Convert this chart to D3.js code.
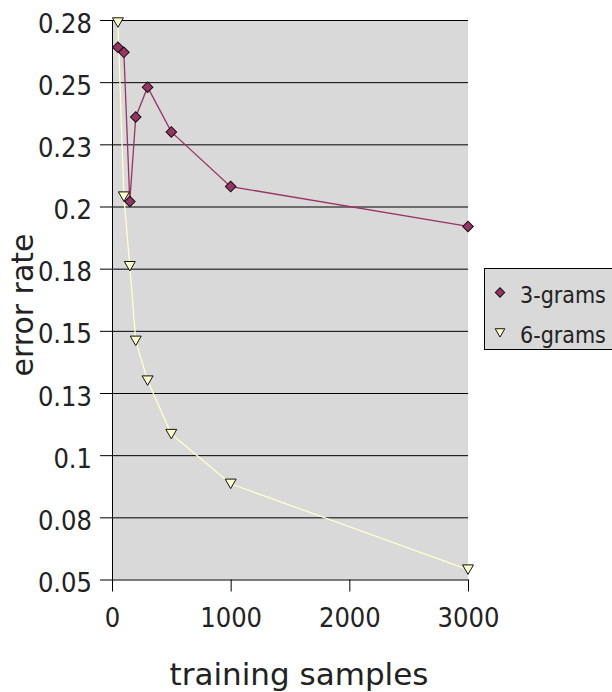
<!DOCTYPE html>
<html>
<head>
<meta charset="utf-8">
<script src="https://cdn.jsdelivr.net/npm/d3@7"></script>
<style>
  body { margin: 0; background: #fff; }
  svg { display: block; }
</style>
</head>
<body>
<div id="graf"></div>
<script>
const anchoTotal = 612
const altoTotal = 692
const margins = { left: 112, top: 20, right: 144, bottom: 112.5 }
const ancho = anchoTotal - margins.left - margins.right
const alto = altoTotal - margins.top - margins.bottom

// Data
const muestras = [50, 100, 150, 200, 300, 500, 1000, 3000]
const tresGramas = [0.264, 0.262, 0.202, 0.236, 0.248, 0.230, 0.208, 0.192]
const seisGramas = [0.274, 0.204, 0.176, 0.146, 0.130, 0.1085, 0.0885, 0.054]
const series = ["3-grams", "6-grams"]
const yTicks = [0.05, 0.075, 0.1, 0.125, 0.15, 0.175, 0.2, 0.225, 0.25, 0.275]
const yTickLabels = ["0.05", "0.08", "0.1", "0.13", "0.15", "0.18", "0.2", "0.23", "0.25", "0.28"]
const xTicks = [0, 1000, 2000, 3000]

const fuente = "'DejaVu Sans Condensed', 'DejaVu Sans', sans-serif"
const fuenteTitulo = "'DejaVu Sans', sans-serif"

const svg = d3
  .select("#graf")
  .append("svg")
  .attr("width", anchoTotal)
  .attr("height", altoTotal)

const g = svg
  .append("g")
  .attr("transform", `translate(${margins.left}, ${margins.top})`)

// Escaladores
const x = d3.scaleLinear().domain([0, 3000]).range([0, ancho])
const y = d3.scaleLinear().domain([0.05, 0.275]).range([alto, 0])

// fondo
g.append("rect")
  .attr("x", 0)
  .attr("y", 0)
  .attr("width", ancho)
  .attr("height", alto)
  .attr("fill", "#d9d9d9")

// grid
const grid = g
  .append("g")
  .call(d3.axisLeft(y).tickValues(yTicks.slice(1)).tickSize(-ancho).tickFormat(""))
grid.select(".domain").remove()
grid.selectAll("line").attr("stroke", "#000").attr("stroke-width", 1)

// Ejes
const yAxisGroup = g
  .append("g")
  .call(
    d3.axisLeft(y)
      .tickValues(yTicks)
      .tickSize(12)
      .tickSizeOuter(0)
      .tickPadding(8)
      .tickFormat((d, i) => yTickLabels[i])
  )
yAxisGroup
  .selectAll("text")
  .attr("font-family", fuente)
  .attr("font-size", 27)
  .attr("fill", "#222")
  .attr("dy", "0.45em")

const xAxisGroup = g
  .append("g")
  .attr("transform", `translate(0, ${alto})`)
  .call(
    d3.axisBottom(x)
      .tickValues(xTicks)
      .tickSize(12)
      .tickSizeOuter(0)
      .tickPadding(16)
      .tickFormat(d3.format("d"))
  )
xAxisGroup
  .selectAll("text")
  .attr("font-family", fuente)
  .attr("font-size", 27)
  .attr("fill", "#222")

svg.selectAll(".domain, .tick line").attr("stroke", "#000")
yAxisGroup.selectAll(".tick line").attr("stroke", "#000")

// titulos
svg
  .append("text")
  .attr("x", 299)
  .attr("y", 685)
  .attr("text-anchor", "middle")
  .attr("font-family", fuenteTitulo)
  .attr("font-size", 31)
  .attr("fill", "#222")
  .text("training samples")

svg
  .append("text")
  .attr("transform", "translate(33, 305) rotate(-90)")
  .attr("text-anchor", "middle")
  .attr("font-family", fuenteTitulo)
  .attr("font-size", 30)
  .attr("fill", "#222")
  .text("error rate")

// lineas y marcadores
const datos3 = muestras.map((m, i) => ({ m, v: tresGramas[i] }))
const datos6 = muestras.map((m, i) => ({ m, v: seisGramas[i] }))

const linea = d3
  .line()
  .x((d) => x(d.m))
  .y((d) => y(d.v))

const diamante = d3.symbol().type(d3.symbolSquare).size(56)
const triangulo = d3.symbol().type(d3.symbolTriangle).size(52)

g.append("path")
  .datum(datos3)
  .attr("d", linea)
  .attr("fill", "none")
  .attr("stroke", "#993366")
  .attr("stroke-width", 1.3)

g.append("path")
  .datum(datos6)
  .attr("d", linea)
  .attr("fill", "none")
  .attr("stroke", "#ffffcc")
  .attr("stroke-width", 1.3)

g.selectAll(".m3")
  .data(datos3)
  .join("path")
  .attr("class", "m3")
  .attr("d", diamante)
  .attr("transform", (d) => `translate(${x(d.m)}, ${y(d.v)}) rotate(45)`)
  .attr("fill", "#993366")
  .attr("stroke", "#111")
  .attr("stroke-width", 1)

g.selectAll(".m6")
  .data(datos6)
  .join("path")
  .attr("class", "m6")
  .attr("d", triangulo)
  .attr("transform", (d) => `translate(${x(d.m)}, ${y(d.v) - 1.5}) rotate(180)`)
  .attr("fill", "#ffffcc")
  .attr("stroke", "#111")
  .attr("stroke-width", 1)

// leyenda
const leyenda = svg.append("g")
leyenda
  .append("rect")
  .attr("x", 484.5)
  .attr("y", 268.5)
  .attr("width", 140)
  .attr("height", 81)
  .attr("fill", "#d9d9d9")
  .attr("stroke", "#000")

const items = leyenda
  .selectAll(".item")
  .data(series)
  .join("g")
  .attr("class", "item")
  .attr("transform", (d, i) => `translate(500, ${292.5 + i * 40})`)

items
  .append("path")
  .attr("d", (d, i) => (i === 0 ? d3.symbol().type(d3.symbolSquare).size(44)() : d3.symbol().type(d3.symbolTriangle).size(40)()))
  .attr("transform", (d, i) => (i === 0 ? "rotate(45)" : "translate(0, -1) rotate(180)"))
  .attr("fill", (d, i) => (i === 0 ? "#993366" : "#ffffcc"))
  .attr("stroke", "#111")

items
  .append("text")
  .attr("x", 20)
  .attr("y", 10)
  .attr("font-family", fuente)
  .attr("font-size", 23)
  .attr("fill", "#222")
  .text((d) => d)
</script>
</body>
</html>
